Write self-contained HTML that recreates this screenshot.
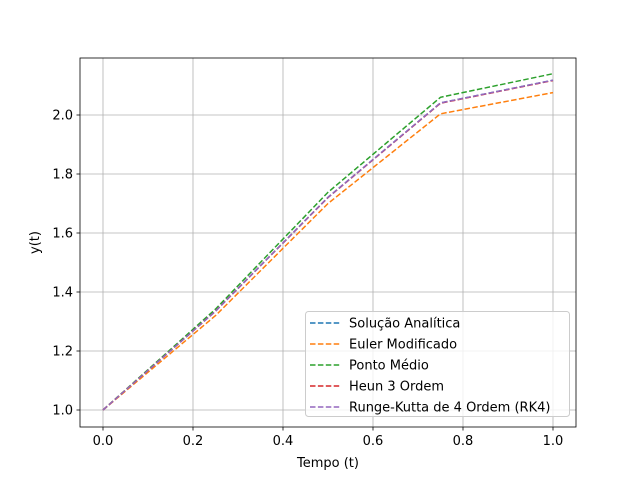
<!DOCTYPE html>
<html><head><meta charset="utf-8"><style>
body{margin:0;background:#fff}
svg{display:block;font-family:"DejaVu Sans","Liberation Sans",sans-serif}
</style></head><body>
<svg id="chart" width="640" height="480" xmlns="http://www.w3.org/2000/svg"></svg>
<script>
const tValues=[0,0.25,0.5,0.75,1.0];
const seriesNames=["Solução Analítica","Euler Modificado","Ponto Médio","Heun 3 Ordem","Runge-Kutta de 4 Ordem (RK4)"];
const seriesColors=["#1f77b4","#ff7f0e","#2ca02c","#d62728","#9467bd"];
const analitica=[1.0,1.335,1.721,2.041,2.118];
const euler=[1.0,1.320,1.700,2.004,2.076];
const pontoMedio=[1.0,1.342,1.738,2.060,2.140];
const heun=[1.0,1.335,1.720,2.040,2.117];
const rk4=[1.0,1.335,1.721,2.041,2.118];
const xTicks=[0,0.2,0.4,0.6,0.8,1.0];
const xTickLabels=["0.0","0.2","0.4","0.6","0.8","1.0"];
const yTicks=[1.0,1.2,1.4,1.6,1.8,2.0];
const yTickLabels=["1.0","1.2","1.4","1.6","1.8","2.0"];
const allSeries=[analitica,euler,pontoMedio,heun,rk4];

const svg=document.getElementById('chart');
const NS="http://www.w3.org/2000/svg";
const L=80,R=576,T=58,B=427;
function xs(v){return 103+v*450;}
function ys(v){return 410-(v-1)*295;}
function mk(tag,attrs,parent){const e=document.createElementNS(NS,tag);for(const k in attrs)e.setAttribute(k,attrs[k]);(parent||svg).appendChild(e);return e;}

const grid=mk('g',{});


xTicks.forEach((v,i)=>{
  mk('line',{x1:xs(v),x2:xs(v),y1:T,y2:B,stroke:'#b0b0b0','stroke-width':0.8},grid);
  mk('line',{x1:xs(v),x2:xs(v),y1:B,y2:B+3.5,stroke:'#000','stroke-width':0.8});
  const t=mk('text',{x:xs(v),y:B+18,'font-size':13,'text-anchor':'middle'});
  
  
  t.textContent=xTickLabels[i];
});
yTicks.forEach((v,i)=>{
  mk('line',{x1:L,x2:R,y1:ys(v),y2:ys(v),stroke:'#b0b0b0','stroke-width':0.8},grid);
  mk('line',{x1:L-3.5,x2:L,y1:ys(v),y2:ys(v),stroke:'#000','stroke-width':0.8});
  const t=mk('text',{x:L-7,y:ys(v)+4.5,'font-size':13,'text-anchor':'end'});
  
  
  t.textContent=yTickLabels[i];
});

allSeries.forEach((s,i)=>{
  const p=mk('polyline',{points:s.map((v,j)=>xs(tValues[j])+','+ys(v)).join(' '),fill:'none',stroke:seriesColors[i],'stroke-width':1.5,'stroke-dasharray':'5.5,2.4'});
  
  
});

const frame=mk('rect',{x:L,y:T,width:R-L,height:B-T,fill:'none',stroke:'#000','stroke-width':0.8});



const xt=mk('text',{x:(L+R)/2,y:467,'font-size':13,'text-anchor':'middle'});


xt.textContent='Tempo (t)';
const yt=mk('text',{x:0,y:0,'font-size':13,'text-anchor':'middle',transform:'translate(39,'+((T+B)/2)+') rotate(-90)'});


yt.textContent='y(t)';

const lg=mk('g',{});


mk('rect',{x:305.5,y:311.5,width:264,height:105,rx:3,fill:'#fff','fill-opacity':0.8,stroke:'#ccc','stroke-width':1},lg);
seriesNames.forEach((n,i)=>{
  const y=323+i*21;
  const e=mk('g',{},lg);
  
  
  mk('line',{x1:310,x2:340,y1:y,y2:y,stroke:seriesColors[i],'stroke-width':1.5,'stroke-dasharray':'5.5,2.4'},e);
  const t=mk('text',{x:349,y:y+4.5,'font-size':13},e);
  t.textContent=n;
});
</script>
</body></html>
